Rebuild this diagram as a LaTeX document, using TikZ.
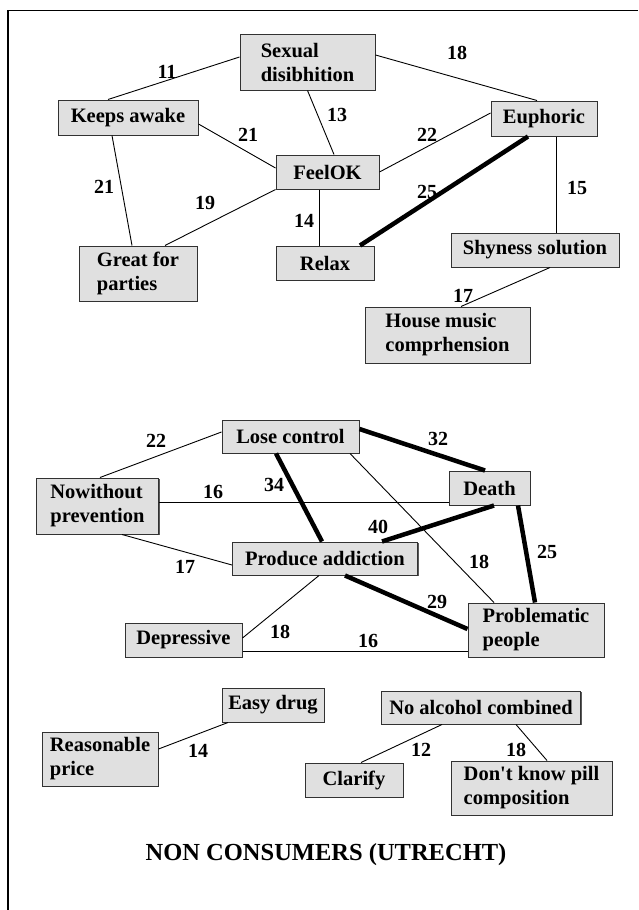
\documentclass[tikz,border=0pt]{standalone}
\usepackage{fontspec}
\setmainfont{Liberation Serif}
\usetikzlibrary{shadows}
\definecolor{boxfill}{RGB}{224,224,224}
\definecolor{boxline}{RGB}{50,50,50}
\newcommand{\boxfont}{\fontsize{20.5}{24}\selectfont\bfseries}
\newcommand{\numfont}{\fontsize{20}{22}\selectfont\bfseries}
\tikzset{
  box/.style={draw=boxline, fill=boxfill, line width=1pt, inner sep=0pt,
    align=left, font=\boxfont,
    drop shadow={shadow xshift=1.2pt, shadow yshift=-1.2pt, fill=black!65, opacity=1}},
  num/.style={inner sep=0pt, font=\numfont},
  link/.style={draw=black, line width=0.9pt},
  strong/.style={draw=black, line width=4.5pt},
  frame/.style={draw=black, line width=1.5pt}
}
\begin{document}
\begin{tikzpicture}[x=1pt, y=-1pt]
\useasboundingbox (0,0) rectangle (638,910);
\coordinate (ftop) at (638,10.5);
\coordinate (fcorner) at (8,10.5);
\coordinate (fbottom) at (8,910);
\draw[frame] (ftop) -- (fcorner) -- (fbottom);

% upper cluster
\node[box, minimum width=135pt, minimum height=56pt] (sex) at (307.5,62) {Sexual\\disibhition};
\node[box, minimum width=140pt, minimum height=35pt] (keeps) at (128,117.5) {Keeps awake};
\node[box, minimum width=106pt, minimum height=35pt] (euph) at (544,118.5) {Euphoric};
\node[box, minimum width=103pt, minimum height=34pt] (feel) at (327.5,172) {FeelOK};
\node[box, minimum width=118pt, minimum height=55pt] (great) at (138,273.5) {Great for\\parties};
\node[box, minimum width=98pt, minimum height=34pt] (relax) at (325,263) {Relax};
\node[box, minimum width=168pt, minimum height=34pt] (shy) at (535,250) {Shyness solution};
\node[box, minimum width=165pt, minimum height=56pt] (house) at (447.5,335) {House music\\comprhension};

% middle cluster
\node[box, minimum width=137pt, minimum height=33pt] (lose) at (290.5,436.5) {Lose control};
\node[box, minimum width=122pt, minimum height=56pt] (nowith) at (97.5,506) {Nowithout\\prevention};
\node[box, minimum width=81pt, minimum height=34pt] (death) at (489.5,488) {Death};
\node[box, minimum width=185pt, minimum height=33pt] (prod) at (325,558.5) {Produce addiction};
\node[box, minimum width=117pt, minimum height=34pt] (dep) at (183.5,640) {Depressive};
\node[box, minimum width=136pt, minimum height=54pt] (prob) at (536,630) {Problematic\\people};

% lower pairs
\node[box, minimum width=102pt, minimum height=34pt] (easy) at (273,705) {Easy drug};
\node[box, minimum width=199pt, minimum height=33pt] (noalc) at (481,707.5) {No alcohol combined};
\node[box, minimum width=116pt, minimum height=54pt] (price) at (100,759) {Reasonable\\price};
\node[box, minimum width=98pt, minimum height=34pt] (clarify) at (354,780) {Clarify};
\node[box, minimum width=161pt, minimum height=54pt] (dontknow) at (531.5,788) {Don\textquotesingle t know pill\\composition};

% connectors, upper cluster
\draw[link] ([yshift=5pt]sex.west) -- ([xshift=-20pt]keeps.north);
\draw[link] ([yshift=7pt]sex.east) -- ([xshift=-7pt]euph.north);
\draw[link] (sex.south) -- ([xshift=6.5pt]feel.north);
\draw[link] ([yshift=-6.5pt]keeps.east) -- ([yshift=4pt]feel.west);
\draw[link] (feel.east) -- ([yshift=5.5pt]euph.west);
\draw[strong] ([xshift=-16pt]euph.south) -- ([xshift=35pt]relax.north);
\draw[link] ([xshift=12pt]euph.south) -- ([xshift=21pt]shy.north);
\draw[link] ([xshift=-16pt]keeps.south) -- ([xshift=-6pt]great.north);
\draw[link] (feel.south west) -- ([xshift=27pt]great.north);
\draw[link] ([xshift=-8.5pt]feel.south) -- ([xshift=-6pt]relax.north);
\draw[link] ([xshift=15pt]shy.south) -- ([xshift=13.5pt]house.north);

% connectors, middle cluster
\draw[link] ([yshift=4.5pt]lose.west) -- ([xshift=2.5pt]nowith.north);
\draw[strong] ([yshift=7.5pt]lose.east) -- ([xshift=-4.5pt]death.north);
\draw[strong] ([xshift=-14.5pt]lose.south) -- ([xshift=-3pt]prod.north);
\draw[link] ([xshift=59.5pt]lose.south) -- ([xshift=-42pt]prob.north);
\draw[link] ([yshift=4pt]nowith.east) -- ([yshift=-14pt]death.west);
\draw[strong] ([xshift=4.5pt]death.south) -- ([xshift=57pt]prod.north);
\draw[strong] ([xshift=28.5pt]death.south) -- ([xshift=-1pt]prob.north);
\draw[link] ([xshift=24.5pt]nowith.south) -- ([yshift=-6.5pt]prod.west);
\draw[strong] ([xshift=20pt]prod.south) -- ([yshift=1pt]prob.west);
\draw[link] ([xshift=-6pt]prod.south) -- ([yshift=2pt]dep.east);
\draw[link] ([yshift=-11pt]dep.east) -- ([yshift=-21pt]prob.west);

% connectors, lower pairs
\draw[link] ([xshift=-45pt]easy.south) -- ([yshift=10pt]price.east);
\draw[link] ([xshift=-39pt]noalc.south) -- ([xshift=7pt]clarify.north);
\draw[link] ([xshift=35pt]noalc.south) -- ([xshift=15.5pt]dontknow.north);

% weights
\node[num] (w11) at (167,72) {11};
\node[num] (w18a) at (457,53) {18};
\node[num] (w13) at (337,115) {13};
\node[num] (w21a) at (248,135) {21};
\node[num] (w22a) at (427,135) {22};
\node[num] (w25a) at (427,192) {25};
\node[num] (w15) at (577,188) {15};
\node[num] (w21b) at (104,187) {21};
\node[num] (w19) at (205,203) {19};
\node[num] (w14a) at (304,221) {14};
\node[num] (w17a) at (463,296) {17};

\node[num] (w22b) at (156,441) {22};
\node[num] (w32) at (438,439) {32};
\node[num] (w34) at (274,485) {34};
\node[num] (w16a) at (213,492) {16};
\node[num] (w40) at (378,527) {40};
\node[num] (w18b) at (479,562) {18};
\node[num] (w25b) at (547,552) {25};
\node[num] (w17b) at (185,567) {17};
\node[num] (w29) at (437,602) {29};
\node[num] (w18c) at (280,632) {18};
\node[num] (w16b) at (368,641) {16};

\node[num] (w14b) at (198,751) {14};
\node[num] (w12) at (421,750) {12};
\node[num] (w18d) at (516,750) {18};

\node[font=\fontsize{24.5}{28}\selectfont\bfseries, inner sep=0pt] (title) at (326,855) {NON CONSUMERS (UTRECHT)};
\end{tikzpicture}
\end{document}
